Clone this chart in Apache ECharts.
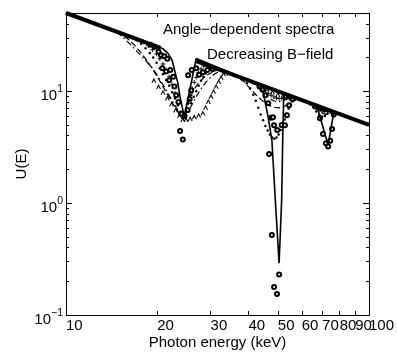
<!DOCTYPE html>
<html><head><meta charset="utf-8">
<script src="https://cdn.jsdelivr.net/npm/echarts@6/dist/echarts.min.js"></script>
<style>html,body{margin:0;padding:0;background:#fff}#c{width:397px;height:352px}</style>
</head><body><div id="c"></div>
<script>
// ---- tick values ----
const xTicks = [10, 20, 30, 40, 50, 60, 70, 80, 90, 100];
const xLabelsOdd = [10, 30, 50, 70, 90];
const xLabelsEven = [20, 40, 60, 80, 100];
const yMajor = [0.1, 1, 10];
const yMinor = [0.2, 0.3, 0.4, 0.5, 0.6, 0.7, 0.8, 0.9, 2, 3, 4, 5, 6, 7, 8, 9, 20, 30, 40, 50];

// ---- data (photon energy keV, U(E)) ----
const continuumLow = [[10, 50], [20.5, 24.4]];
const continuumHigh = [[26.9, 18.6], [100, 5]];

const solid = [[10, 50], [20.9, 23.9], [21.7, 21.8], [22.4, 18.9], [22.9, 14.8], [23.4, 11.8], [23.8, 8.8],
  [24.3, 6.8], [24.5, 5.7], [26.9, 19.6], [42, 11.9], [44.7, 9.9], [46.4, 6.0], [47.8, 3.66], [49.1, 1.03],
  [50.5, 0.29], [51.5, 1.08], [51.9, 3.7], [52.3, 9.3], [66.5, 7.5], [67.9, 6.8], [73.3, 3.3], [76.6, 6.6], [100, 5]];

const dashed = [[10, 50], [14.5, 34.5], [15.3, 32], [16.1, 29], [16.9, 25.5], [17.7, 22], [18.5, 18.8], [19.3, 15.8],
  [20.1, 13.2], [20.9, 11], [21.7, 9.2], [22.5, 7.8], [23.3, 6.7], [24.1, 5.9], [24.6, 5.7], [25.0, 7.0], [25.7, 8.8],
  [26.5, 10.5], [27.5, 12.0], [28.5, 13.2], [29.5, 14.2], [30.6, 14.9], [31.5, 15.4], [32.5, 15.3], [36, 13.9],
  [38.5, 12.3], [40.5, 10.6], [42.5, 9.2], [44.5, 8.2], [46.5, 7.5], [48.5, 7.2], [50.5, 7.1], [52.5, 7.3],
  [54.5, 7.8], [56.5, 8.4], [58.5, 8.5], [66, 7.55], [68, 7.0], [70, 6.4], [72, 6.2], [74, 6.4], [76, 6.5], [100, 5]];

const dashDot = [[10, 50], [14.2, 35.2], [14.9, 33], [15.7, 29], [16.4, 25.8], [17.2, 22.5], [18.2, 19.2], [19.2, 16.3],
  [20.1, 13.6], [21.0, 11.2], [21.9, 9.2], [22.8, 7.6], [23.6, 6.5], [24.3, 5.9], [24.8, 5.8], [25.5, 6.8], [26.3, 8.0],
  [27.2, 9.4], [28.1, 10.8], [29.0, 12.1], [30.0, 13.3], [31.0, 14.3], [32.0, 15.0], [33.0, 15.1], [34, 14.7],
  [40, 12.5], [42, 11.5], [44, 10.2], [46, 9.1], [48, 8.3], [50, 8.0], [52, 8.2], [54, 8.6], [56, 8.9], [60, 8.33],
  [65, 7.7], [67, 7.2], [69, 6.8], [71, 6.6], [73, 6.6], [75, 6.6], [77, 6.5], [100, 5]];

const circles = [[19.0, 26], [19.6, 25], [20.2, 22.5], [20.6, 21], [21.1, 20.5], [21.6, 19.5], [20.8, 16], [21.4, 15],
  [22.1, 15.5], [22.6, 13.5], [21.9, 12.5], [22.8, 11], [23.1, 9.2], [23.5, 8], [23.8, 4.4], [24.3, 3.7], [24.0, 6.3],
  [24.6, 6.0], [25.2, 6.8], [25.6, 8.5], [25.9, 10.2], [25.3, 13.9], [26.0, 15.5], [26.9, 16.0], [27.5, 14],
  [28.3, 14.8], [29.3, 15.5], [30.5, 15.8],
  [43.5, 11.0], [44.5, 10.3], [45.5, 9.2], [46.5, 7.8], [46.8, 2.74], [47.5, 5.8], [47.8, 0.52], [48.2, 5.86],
  [48.6, 4.97], [48.6, 0.178], [49.7, 0.154], [49.8, 4.5], [50.5, 0.23], [51.5, 5.0], [52.8, 4.97], [53.6, 6.1],
  [54.5, 7.5], [56, 8.5],
  [66.5, 7.3], [68.9, 5.74], [70.5, 4.14], [72.1, 3.43], [73.3, 3.2], [74.5, 3.6], [75.5, 4.6], [76.5, 6.2]];

const dots = [[16.5, 30.5], [17.1, 28.5], [17.7, 26.5], [18.3, 24.2], [18.9, 22], [19.4, 20], [19.9, 18], [20.4, 16],
  [20.9, 14.2], [21.4, 12.6], [21.9, 11.2], [22.4, 9.8], [22.9, 8.6], [23.4, 7.5], [23.9, 6.5], [24.4, 5.8],
  [24.9, 6.0], [25.4, 6.8], [25.9, 7.8], [26.4, 8.9], [26.9, 10], [27.4, 11.2], [27.9, 12.4], [28.4, 13.5],
  [28.9, 14.5], [29.4, 15.3], [29.9, 16], [30.4, 16.3],
  [38.5, 12.6], [39.5, 11.8], [40.5, 10.6], [41.5, 9.3], [42.3, 8.2], [43.1, 7.1], [43.9, 6.2], [44.7, 5.5],
  [45.5, 4.9], [46.3, 4.45], [47.1, 4.1], [47.9, 3.85], [48.7, 3.75], [49.5, 3.85], [50.3, 4.1], [51.1, 4.5],
  [51.9, 5.0], [52.7, 5.6], [53.5, 6.3], [54.3, 7.0], [55.1, 7.6], [56, 8.1], [57, 8.4],
  [64, 7.6], [65.5, 7.2], [67, 6.6], [68.5, 6.1], [70, 5.9], [71.5, 6.0], [73, 6.3], [74.5, 6.6], [76, 6.6]];

const pluses = [[18, 27.5], [18.7, 25.5], [19.3, 23.5], [19.9, 21.5], [20.4, 19.5], [20.9, 17.5], [21.4, 15.5],
  [21.9, 13.5], [22.4, 11.5], [22.9, 9.6], [23.4, 7.9], [23.9, 6.5], [24.4, 5.7],
  [24.9, 6.5], [25.3, 7.8], [25.7, 9.2], [26.1, 10.6], [26.5, 12], [26.9, 13.3], [27.4, 14.6], [27.9, 15.8],
  [28.5, 16.8], [29.1, 17.2],
  [44.5, 10.7], [45.5, 10.1], [46.5, 9.6], [47.5, 9.2], [48.5, 8.9], [49.5, 8.7], [50.5, 8.6], [51.5, 8.6],
  [52.5, 8.7], [53.5, 8.7], [54.5, 8.6], [55.5, 8.5],
  [67, 7.2], [68.5, 6.9], [70, 6.7], [71.5, 6.6], [73, 6.6], [74.5, 6.6]];

const triangles = [[19.5, 12.5], [20.2, 11], [20.9, 9.8], [21.6, 8.7], [22.3, 7.7], [23.0, 6.8], [23.7, 6.1], [24.3, 5.6],
  [24.9, 5.6], [25.7, 5.7], [26.5, 5.9], [27.4, 6.1], [28.3, 6.4], [28.9, 7.2], [29.5, 8.1], [30.1, 9.0], [30.7, 10.0],
  [31.3, 11.1], [31.9, 12.2], [32.5, 13.3], [33.1, 14.3], [33.7, 14.8], [34.5, 14.5],
  [44, 11], [46, 10.4], [48, 9.9], [50, 9.4], [52, 9.1], [54, 8.9],
  [68, 7.1], [70, 6.9], [72, 6.8], [74, 6.7]];

const FONT = 'Liberation Sans, Arial, Helvetica, sans-serif';
const FS = 15;
const chart = echarts.init(document.getElementById('c'), null, {renderer: 'canvas'});

function supLabel(v) {
  const e = Math.round(Math.log10(v));
  return '{b|10}{s|' + (e < 0 ? '\u2212' + (-e) : e) + '}';
}
const axisLineStyle = {color: '#000', width: 1};
function yAx(pos, ticks, len, withLine, withLabel) {
  return {
    type: 'log', logBase: 10, min: 0.1, max: 50, position: pos,
    axisLine: {show: withLine, lineStyle: axisLineStyle},
    axisTick: {show: true, inside: true, length: len, customValues: ticks, lineStyle: {color: '#000', width: 1}},
    axisLabel: withLabel ? {
      show: true, customValues: yMajor, formatter: supLabel, margin: 3, color: '#000', fontFamily: FONT,
      verticalAlign: 'middle', padding: [5, 0, 0, 0],
      rich: {b: {fontSize: FS, fontFamily: FONT, color: '#000', lineHeight: 20, verticalAlign: 'bottom'},
             s: {fontSize: 10.5, fontFamily: FONT, color: '#000', verticalAlign: 'top'}}
    } : {show: false},
    splitLine: {show: false}, minorTick: {show: false},
    name: withLabel ? 'U(E)' : '', nameLocation: 'middle', nameGap: 37, nameRotate: 90, nameMoveOverlap: false,
    nameTextStyle: {fontSize: FS, fontFamily: FONT, color: '#000'}
  };
}
function xAx(pos, labels, showLine, ticks, name) {
  return {
    type: 'log', logBase: 10, min: 10, max: 100, position: pos,
    axisLine: {show: showLine, lineStyle: axisLineStyle},
    axisTick: {show: ticks, inside: true, length: 4, customValues: xTicks, lineStyle: {color: '#000', width: 1}},
    axisLabel: labels ? {show: true, customValues: labels, formatter: v => String(Math.round(v)),
      align: 'left', margin: 3, fontSize: FS, fontFamily: FONT, color: '#000'} : {show: false},
    splitLine: {show: false},
    name: name || '', nameLocation: 'middle', nameGap: 20, nameMoveOverlap: false,
    nameTextStyle: {fontSize: FS, fontFamily: FONT, color: '#000'}
  };
}

const lineBase = {type: 'line', xAxisIndex: 0, yAxisIndex: 0, showSymbol: false, symbol: 'none', silent: true, animation: false};
const scatBase = {type: 'scatter', xAxisIndex: 0, yAxisIndex: 0, silent: true, animation: false};

chart.setOption({
  animation: false,
  backgroundColor: '#fff',
  grid: {left: 66, right: 28, top: 13, bottom: 37, containLabel: false, outerBoundsMode: 'none'},
  xAxis: [xAx('bottom', xLabelsOdd, true, true, 'Photon energy (keV)'), xAx('top', null, true, true),
          xAx('bottom', xLabelsEven, false, false)],
  yAxis: [yAx('left', yMajor, 6, true, true), yAx('left', yMinor, 3, false, false),
          yAx('right', yMajor, 6, true, false), yAx('right', yMinor, 3, false, false)],
  graphic: [
    {type: 'text', left: 163, top: 22, style: {text: 'Angle\u2212dependent spectra', fontSize: FS, fontFamily: FONT, fill: '#000'}},
    {type: 'text', left: 207, top: 47, style: {text: 'Decreasing B\u2212field', fontSize: FS, fontFamily: FONT, fill: '#000'}}
  ],
  series: [
    Object.assign({}, lineBase, {data: continuumLow, lineStyle: {color: '#000', width: 4}}),
    Object.assign({}, lineBase, {data: continuumHigh, lineStyle: {color: '#000', width: 4}}),
    Object.assign({}, lineBase, {data: dashed, lineStyle: {color: '#000', width: 1.2, type: [6, 3]}}),
    Object.assign({}, lineBase, {data: dashDot, lineStyle: {color: '#000', width: 1.2, type: [6, 3, 1.5, 3]}}),
    Object.assign({}, lineBase, {data: solid, lineStyle: {color: '#000', width: 1.6}}),
    Object.assign({}, scatBase, {data: dots, symbol: 'circle', symbolSize: 2.5, itemStyle: {color: '#000', opacity: 1}}),
    Object.assign({}, scatBase, {data: pluses, symbol: 'path://M4,0h2v4h4v2h-4v4h-2v-4h-4v-2h4z', symbolSize: 4.5, itemStyle: {color: '#000', opacity: 1}}),
    Object.assign({}, scatBase, {data: triangles, symbol: 'path://M0,10L5,0L10,10L7.6,10L5,4.6L2.4,10Z', symbolSize: 5, itemStyle: {color: '#000', opacity: 1}}),
    Object.assign({}, scatBase, {data: circles, symbol: 'emptyCircle', symbolSize: 4, itemStyle: {color: '#000', borderColor: '#000', borderWidth: 0.9, opacity: 1}})
  ]
});
</script>
</body></html>
